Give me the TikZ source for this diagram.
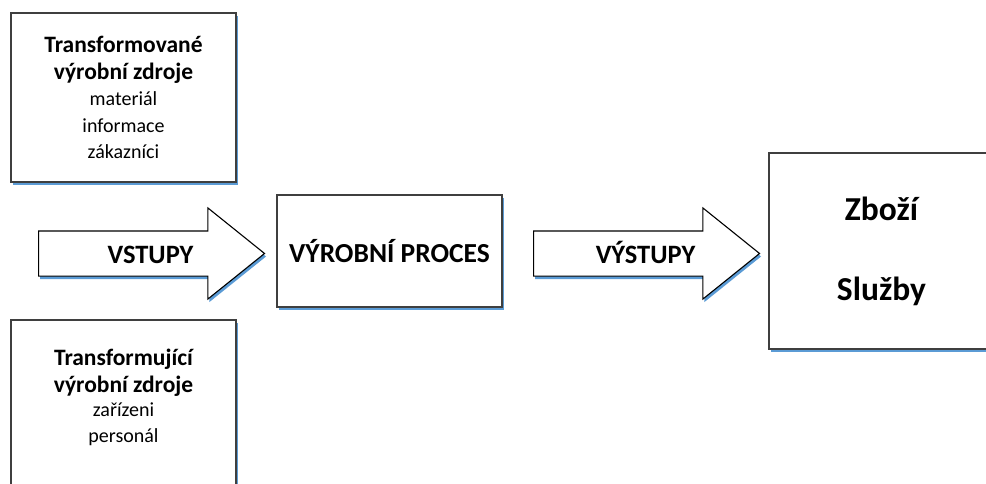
\documentclass[tikz,border=0pt]{standalone}
\usepackage{fontspec}
\setmainfont{Carlito}
\usetikzlibrary{shapes.arrows,shadows}

\definecolor{edgegray}{HTML}{3F3F3F}
\definecolor{shadeblue}{HTML}{5B9BD5}

\tikzset{
  bluedrop/.style={drop shadow={shadow xshift=1.5pt, shadow yshift=-3pt,
      fill=shadeblue, opacity=1}},
  block/.style={draw=edgegray, line width=1.2pt, fill=white, bluedrop,
      minimum width=225pt, inner sep=0pt, align=center},
  flow/.style={single arrow, draw=black, line width=1.1pt, fill=white, bluedrop,
      single arrow head extend=23pt, single arrow tip angle=77.6,
      minimum height=226pt, inner xsep=4pt, inner ysep=5pt,
      text height=27.35pt, text depth=6.65pt,
      font=\bfseries\fontsize{26.5}{30}\selectfont},
  headfont/.style={font=\bfseries\fontsize{23.5}{27}\selectfont},
}
\newcommand{\smalltxt}[1]{{\mdseries\fontsize{20}{23}\selectfont #1}}

\begin{document}
\begin{tikzpicture}[x=1pt, y=-1pt]
  \useasboundingbox (0,0) rectangle (986,484);
  \clip (0,0) rectangle (986,484);

  % upper resource box
  \node[block, minimum height=169pt, headfont] (transformed) at (123.5,97.5)
    {Transformované\\výrobní zdroje\\[-1pt]
     \smalltxt{materiál}\\[0pt]\smalltxt{informace}\\[-1pt]\smalltxt{zákazníci}};

  % lower resource box, running off the bottom edge
  \node[block, minimum height=190pt] (transforming) at (123.5,415) {};
  \node[headfont, align=center] (transformingtext) at (123.5,397)
    {Transformující\\výrobní zdroje\\[-3pt]
     \smalltxt{zařízeni}\\[-1pt]\smalltxt{personál}};

  % inputs arrow
  \node[flow, anchor=tail] (inputs) at (38,253.5) {\hspace*{26pt}VSTUPY};

  % production process
  \node[block, minimum height=112pt,
        font=\bfseries\fontsize{27.5}{30}\selectfont] (process) at (389.5,251)
    {VÝROBNÍ PROCES};

  % outputs arrow
  \node[flow, anchor=tail] (outputs) at (533,253.5) {\hspace*{26pt}VÝSTUPY};

  % goods and services box, running off the right edge
  \node[block, minimum height=196pt,
        font=\bfseries\fontsize{33.5}{38}\selectfont] (products) at (881.5,251)
    {\raisebox{-3pt}{Zboží}\\[42pt]\raisebox{-3pt}{Služby}};
\end{tikzpicture}
\end{document}
